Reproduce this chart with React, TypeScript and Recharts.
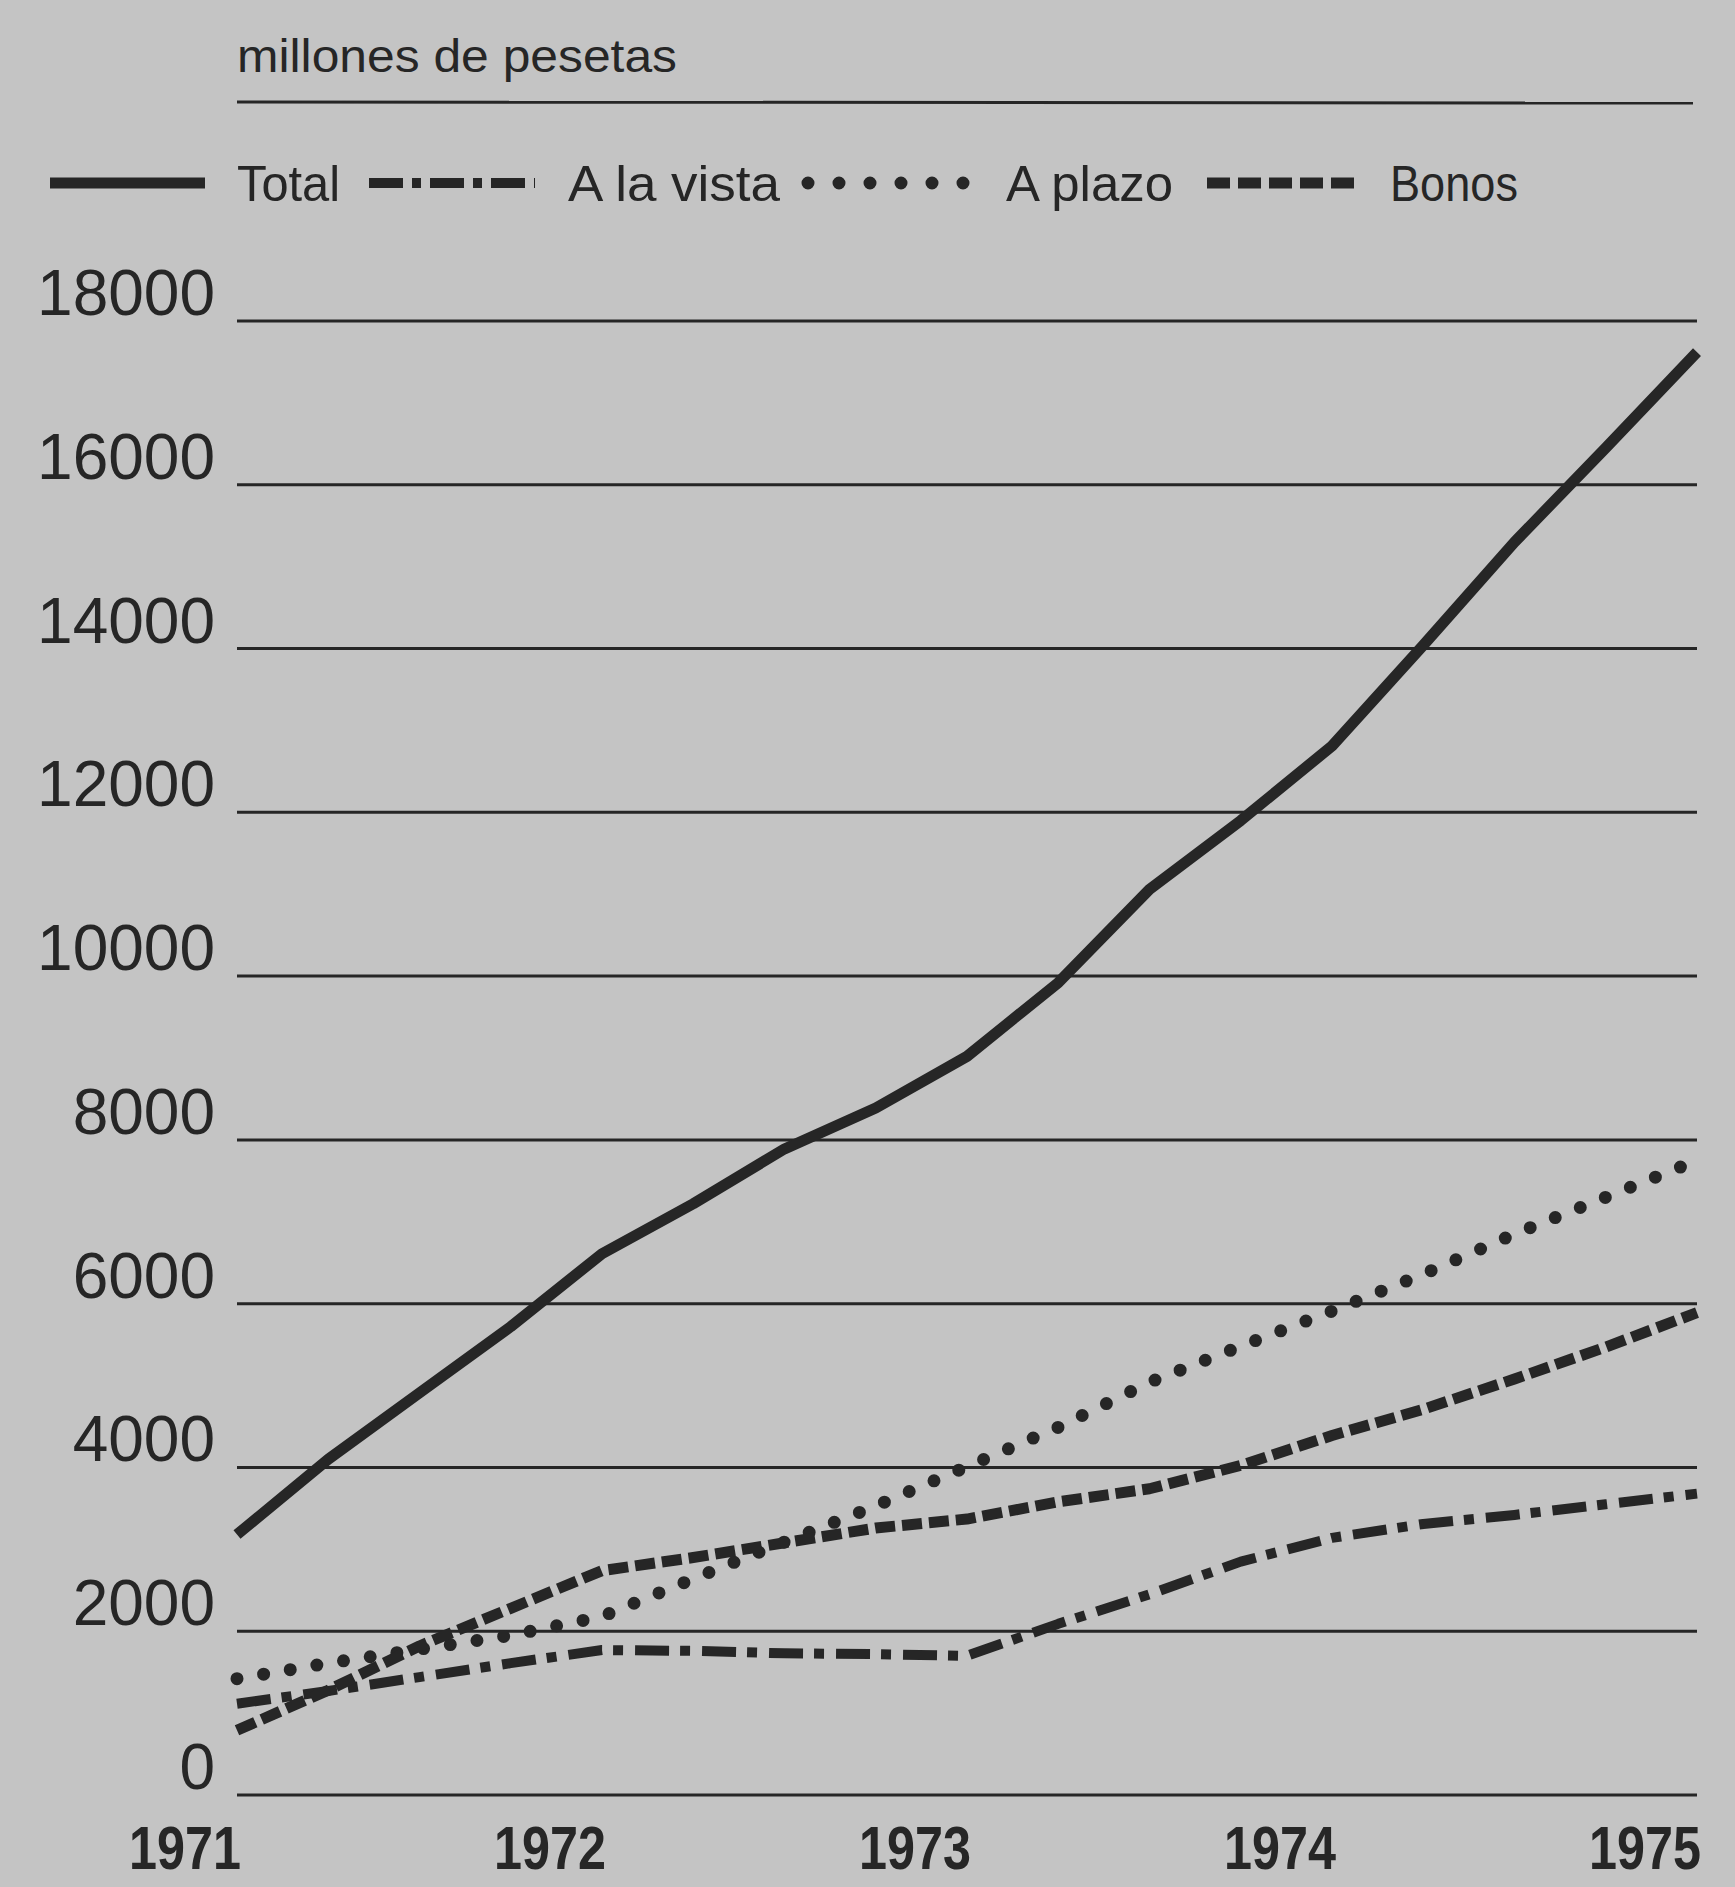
import { LineChart, Line, XAxis, YAxis, CartesianGrid } from 'recharts';

// quarterly points, 1971 to 1975 (millones de pesetas)
const quarters = [
  1971, 1971.25, 1971.5, 1971.75, 1972, 1972.25, 1972.5, 1972.75, 1973, 1973.25, 1973.5,
  1973.75, 1974, 1974.25, 1974.5, 1974.75, 1975,
];
const total = [
  3180, 4100, 4910, 5720, 6610, 7220, 7890, 8390, 9020, 9920, 11060, 11900, 12810, 14040,
  15300, 16450, 17620,
];
const aLaVista = [
  1115, 1270, 1440, 1610, 1770, 1760, 1730, 1720, 1700, 2090, 2450, 2850, 3140, 3310, 3420,
  3550, 3680,
];
const aPlazo = [
  1420, 1610, 1780, 1950, 2180, 2640, 3090, 3530, 4010, 4490, 5040, 5480, 5910, 6360, 6850,
  7300, 7750,
];
const bonos = [
  790, 1280, 1820, 2280, 2740, 2900, 3080, 3260, 3370, 3580, 3740, 4025, 4390, 4710, 5080,
  5470, 5890,
];

const yearTicks = [1971, 1972, 1973, 1974, 1975];
const valueTicks = [0, 2000, 4000, 6000, 8000, 10000, 12000, 14000, 16000, 18000];
const unitLabel = 'millones de pesetas';

const INK = '#262626';
const PAPER = '#c4c4c4';
const FONT = '"Liberation Sans", Arial, Helvetica, sans-serif';

const data = quarters.map((q, i) => ({
  q,
  total: total[i],
  aLaVista: aLaVista[i],
  aPlazo: aPlazo[i],
  bonos: bonos[i],
}));

const series = [
  { key: 'total', name: 'Total', width: 11, dash: undefined, cap: 'butt', legendDash: undefined, legendWidth: 11 },
  { key: 'aLaVista', name: 'A la vista', width: 10, dash: '34 11 10 12', cap: 'butt', legendDash: '34 9 9 9', legendWidth: 10 },
  { key: 'aPlazo', name: 'A plazo', width: 13, dash: '0 27', cap: 'round', legendDash: '0 31', legendWidth: 13 },
  { key: 'bonos', name: 'Bonos', width: 11, dash: '20 7', cap: 'butt', legendDash: '23 8', legendWidth: 11 },
];

// legend layout: swatch start/end, text start and width
const legendSlots = [
  { x1: 50, x2: 205, tx: 237, tw: 103 },
  { x1: 369, x2: 535, tx: 568, tw: 212 },
  { x1: 808, x2: 964, tx: 1006, tw: 167 },
  { x1: 1207, x2: 1356, tx: 1390, tw: 128 },
];

function YTick({ x, y, payload }: any) {
  return (
    <text x={x - 22} y={y - 6} textAnchor="end" fontSize={64} fill={INK} fontFamily={FONT}>
      {payload.value}
    </text>
  );
}

function XTick({ x, y, payload }: any) {
  return (
    <text
      x={x + 4}
      y={y + 74}
      textAnchor="end"
      fontSize={62}
      fontWeight="bold"
      fill={INK}
      fontFamily={FONT}
      textLength={112}
      lengthAdjust="spacingAndGlyphs"
    >
      {payload.value}
    </text>
  );
}

function Header() {
  return (
    <svg width={1735} height={240} style={{ position: 'absolute', left: 0, top: 0 }}>
      <text
        x={237}
        y={72}
        fontSize={46}
        fill={INK}
        fontFamily={FONT}
        textLength={440}
        lengthAdjust="spacingAndGlyphs"
      >
        {unitLabel}
      </text>
      <line x1={237} x2={1693} y1={102} y2={103} stroke={INK} strokeWidth={3} />
      {series.map((s, i) => {
        const slot = legendSlots[i];
        return (
          <g key={s.key}>
            <line
              x1={slot.x1}
              x2={slot.x2}
              y1={183}
              y2={183}
              stroke={INK}
              strokeWidth={s.legendWidth}
              strokeDasharray={s.legendDash}
              strokeLinecap={s.cap as any}
            />
            <text
              x={slot.tx}
              y={201}
              fontSize={50}
              fill={INK}
              fontFamily={FONT}
              textLength={slot.tw}
              lengthAdjust="spacingAndGlyphs"
            >
              {s.name}
            </text>
          </g>
        );
      })}
    </svg>
  );
}

export default function App() {
  return (
    <div style={{ position: 'relative', width: 1735, height: 1887, background: PAPER }}>
      <style>{`body{margin:0;background:${PAPER};}`}</style>
      <div style={{ position: 'absolute', left: 0, top: 0 }}>
        <LineChart
          width={1735}
          height={1887}
          data={data}
          margin={{ top: 321, right: 38, bottom: 12, left: 17 }}
        >
          <CartesianGrid horizontal vertical={false} stroke={INK} strokeWidth={3} />
          <XAxis
            dataKey="q"
            type="number"
            domain={[1971, 1975]}
            ticks={yearTicks}
            height={80}
            axisLine={false}
            tickLine={false}
            tickSize={0}
            tickMargin={0}
            tick={<XTick />}
            interval={0}
          />
          <YAxis
            type="number"
            domain={[0, 18000]}
            ticks={valueTicks}
            width={220}
            axisLine={false}
            tickLine={false}
            tickSize={0}
            tickMargin={0}
            tick={<YTick />}
            interval={0}
          />
          {series.map((s) => (
            <Line
              key={s.key}
              dataKey={s.key}
              name={s.name}
              type="linear"
              stroke={INK}
              strokeWidth={s.width}
              strokeDasharray={s.dash}
              strokeLinecap={s.cap as any}
              strokeLinejoin="round"
              dot={false}
              activeDot={false}
              isAnimationActive={false}
            />
          ))}
        </LineChart>
      </div>
      <Header />
    </div>
  );
}
